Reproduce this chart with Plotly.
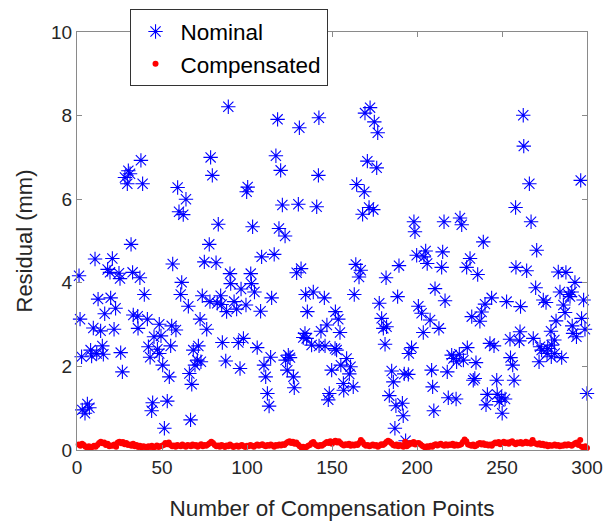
import plotly.graph_objects as go

# Residuals before compensation (x: compensation point index, y: residual in mm)
nominal_x = [
    1.2, 1.8, 2.7, 3.1, 4.7, 6.1, 7.3, 8.0, 8.6, 9.6,
    10.6, 11.6, 12.4, 13.9, 14.9, 15.5, 16.3, 18.0, 19.4, 19.8,
    20.8, 21.8, 22.7, 24.7, 25.3, 25.7, 26.7, 28.2, 29.6, 30.2,
    31.2, 31.8, 32.7, 33.1, 35.7, 35.9, 37.0, 37.6, 38.6, 39.6,
    41.4, 42.0, 43.0, 43.9, 44.5, 45.3, 47.3, 48.4, 48.4, 49.4,
    50.4, 51.4,
    53.1, 54.3, 55.1, 55.7, 56.3, 58.2, 59.2, 60.0, 61.0, 61.6,
    62.5, 64.1, 65.5, 66.1, 66.8, 67.5, 68.4, 69.4, 70.8, 71.4,
    72.4, 72.9, 73.7, 74.9, 76.3, 77.8, 78.2, 78.6, 79.6, 81.8,
    82.5, 83.1, 84.5, 85.1, 85.5, 87.5, 88.0, 89.0, 90.0, 90.4,
    92.4, 93.9, 94.9, 95.9, 96.5, 97.9, 99.4, 99.8, 100.4, 102.2,
    102.6, 103.3, 104.4, 106.0,
    108.0, 108.6, 110.0, 111.0, 112.0, 113.0, 113.9, 114.5, 116.0, 117.0,
    118.0, 118.8, 119.8, 120.8, 122.4, 122.7, 123.7, 124.3, 125.3, 127.3,
    127.8, 129.2, 130.2, 130.8, 131.8, 133.1, 134.1, 134.5, 135.1, 135.5,
    138.0, 139.0, 141.0, 142.0, 142.4, 142.3, 143.5, 145.5, 145.9, 147.0,
    147.8, 148.4, 149.8, 151.8, 152.0, 152.7, 153.7, 154.7, 155.2, 156.7,
    156.9,
    158.6, 160.2, 160.9, 162.5, 163.1, 164.0, 164.5, 165.9, 166.9, 168.0,
    169.0, 169.4, 170.8, 171.8, 172.4, 174.3, 174.9, 176.3, 176.9, 177.8,
    179.2, 180.2, 181.2, 181.8, 182.1, 183.7, 185.1, 186.1, 187.0, 187.6,
    188.6, 189.4, 191.4, 191.9, 192.5, 193.3, 194.9, 195.2, 196.8, 198.2,
    198.8, 199.8, 200.8, 202.7, 203.7, 204.1, 205.1, 206.0, 207.7, 208.6,
    209.2, 209.9, 210.6,
    212.9, 214.5, 215.1, 215.9, 216.5, 217.8, 218.4, 220.4, 221.4, 223.0,
    223.3, 224.9, 225.3, 226.3, 227.3, 229.2, 229.6, 231.2, 232.2, 233.1,
    234.0, 234.7, 235.7, 237.0, 238.0, 239.0, 240.0, 240.6, 241.4, 242.9,
    243.9, 245.3, 246.9, 247.2, 248.4, 249.8, 250.1, 251.8, 252.7, 254.7,
    255.0, 256.3, 257.1,
    258.0, 258.2, 260.2, 260.6, 260.9, 262.5, 262.8, 264.5, 266.1, 267.1,
    268.4, 269.8, 270.4, 271.8, 272.4, 273.3, 274.3, 275.9, 276.5, 276.9,
    278.8, 279.0, 279.2, 280.8, 281.0, 281.8, 283.1, 284.1, 285.1, 286.1,
    287.1, 287.6, 289.0, 290.0, 291.0, 291.3, 291.8, 292.9, 293.8, 296.3,
    296.8, 298.0, 298.8, 300.0,
]
nominal_y = [
    4.17, 3.13, 2.23, 0.96, 0.88, 1.10, 1.01, 2.39, 2.25, 2.92,
    4.57, 2.31, 3.61, 2.85, 2.49, 2.29, 3.26, 4.32, 4.25, 3.64,
    4.58, 2.89, 3.39, 4.23, 4.10, 2.33, 1.87, 6.52, 6.37, 6.68,
    6.61, 4.92, 4.25, 3.23, 3.20, 2.91, 4.12, 6.93, 6.37, 3.72,
    3.13, 2.47, 2.22, 0.94, 1.13, 2.71, 2.41, 3.01, 2.31, 2.73,
    2.03, 0.52,
    1.17, 1.75, 2.49, 2.97, 4.45, 2.87, 6.28, 5.70, 3.72, 4.01,
    5.63, 6.00, 3.44, 1.83, 0.72, 1.57, 2.39, 2.03, 2.15, 2.49,
    3.13, 2.11, 3.69, 4.50, 2.89, 4.92, 3.55, 7.00, 6.57, 4.48,
    3.51, 5.40, 3.69, 3.48, 2.57, 2.13, 3.31, 8.21, 4.22, 3.98,
    3.55, 3.37, 2.57, 1.95, 3.85, 2.67, 3.47, 6.18, 6.29, 4.22,
    3.98, 5.34, 3.78, 2.45,
    3.32, 4.62, 2.03, 1.75, 1.35, 1.05, 2.22, 3.64, 4.68, 7.04,
    7.91, 5.30, 6.69, 5.86, 5.12, 2.15, 1.91, 2.27, 2.21, 1.75,
    1.49, 4.24, 5.88, 7.71, 4.34, 2.69, 2.79, 3.72, 2.67, 3.31,
    2.51, 3.78, 5.82, 6.57, 2.49, 7.95, 2.84, 3.64, 2.49, 2.99,
    1.20, 1.35, 1.91, 2.43, 3.31, 2.39, 3.13, 2.81, 2.03, 1.59,
    1.43,
    2.19, 1.82, 1.99, 1.51, 3.72, 4.44, 6.35, 4.14, 4.30, 5.64,
    6.18, 8.06, 6.91, 5.80, 8.19, 5.75, 7.85, 6.75, 7.59, 3.51,
    3.15, 2.91, 2.53, 4.12, 2.95, 1.30, 1.89, 1.63, 0.52, 1.06,
    3.67, 4.41, 1.12, 0.82, 1.82, 0.22, 1.81, 2.31, 2.45, 5.46,
    5.22, 4.66, 3.44, 3.27, 2.81, 4.62, 4.76, 4.46, 3.11, 1.91,
    1.51, 0.94, 3.86,
    2.91, 4.37, 4.74, 5.46, 3.57, 1.87, 1.25, 2.27, 2.19, 1.22,
    2.11, 2.29, 5.55, 5.39, 2.15, 4.37, 2.45, 4.58, 3.19, 1.67,
    1.71, 2.09, 4.20, 3.08, 3.30, 4.98, 3.49, 1.08, 1.33, 2.55,
    3.64, 2.49, 1.67, 1.33, 1.16, 1.25, 0.88, 1.22, 3.55, 2.65,
    2.21, 2.03, 1.67,
    5.80, 4.37, 2.61, 2.83, 3.43, 8.01, 7.27, 4.29, 6.37, 5.46,
    2.67, 3.88, 4.78, 2.11, 2.47, 2.39, 3.59, 3.53, 2.31, 2.43,
    2.84, 2.23, 2.51, 2.63, 2.31, 3.09, 4.26, 3.78, 2.21, 3.47,
    3.29, 4.25, 3.72, 3.67, 3.78, 2.97, 2.79, 4.01, 2.71, 6.45,
    3.15, 3.59, 2.89, 1.35,
]

# Residuals after compensation, one per compensation point (1..300)
compensated_x = list(range(1, 301))
compensated_y = [
    0.13, 0.10, 0.15, 0.12, 0.08, 0.06, 0.09, 0.05, 0.07, 0.10,
    0.08, 0.12, 0.17, 0.20, 0.16, 0.18, 0.12, 0.15, 0.09, 0.11,
    0.10, 0.13, 0.08, 0.18, 0.20, 0.16, 0.19, 0.14, 0.17, 0.12,
    0.13, 0.10, 0.15, 0.09, 0.12, 0.07, 0.10, 0.06, 0.09, 0.08,
    0.05, 0.09, 0.07, 0.10, 0.06, 0.08, 0.11, 0.07, 0.09, 0.10,
    0.12, 0.17, 0.14, 0.18, 0.12, 0.09, 0.11, 0.08, 0.12, 0.10,
    0.09, 0.13, 0.10, 0.08, 0.12, 0.11, 0.09, 0.13, 0.10, 0.12,
    0.08, 0.11, 0.14, 0.09, 0.12, 0.10, 0.13, 0.16, 0.20, 0.17,
    0.12, 0.09, 0.11, 0.08, 0.12, 0.10, 0.07, 0.11, 0.09, 0.13,
    0.10, 0.07, 0.09, 0.11, 0.08, 0.10, 0.12, 0.09, 0.07, 0.10,
    0.09, 0.12, 0.10, 0.08, 0.11, 0.13, 0.10, 0.12, 0.14, 0.11,
    0.09, 0.12, 0.10, 0.13, 0.11, 0.08, 0.12, 0.10, 0.13, 0.11,
    0.14, 0.12, 0.16, 0.19, 0.21, 0.17, 0.20, 0.15, 0.18, 0.13,
    0.09, 0.06, 0.08, 0.05, 0.07, 0.10, 0.12, 0.17, 0.19, 0.14,
    0.11, 0.09, 0.12, 0.10, 0.13, 0.16, 0.19, 0.17, 0.21, 0.15,
    0.20, 0.22, 0.18, 0.21, 0.17, 0.13, 0.11, 0.14, 0.12, 0.15,
    0.10, 0.13, 0.11, 0.14, 0.12, 0.17, 0.24, 0.19, 0.13, 0.10,
    0.12, 0.09, 0.11, 0.13, 0.10, 0.12, 0.08, 0.11, 0.14, 0.12,
    0.15, 0.19, 0.22, 0.20, 0.16, 0.12, 0.10, 0.13, 0.09, 0.12,
    0.10, 0.08, 0.20, 0.09, 0.12, 0.17, 0.15, 0.19, 0.13, 0.16,
    0.17, 0.14, 0.10, 0.08, 0.06, 0.09, 0.07, 0.10, 0.08, 0.12,
    0.14, 0.11, 0.13, 0.15, 0.12, 0.10, 0.14, 0.11, 0.13, 0.12,
    0.15, 0.10, 0.13, 0.11, 0.12, 0.14, 0.19, 0.25, 0.21, 0.13,
    0.12, 0.10, 0.13, 0.09, 0.11, 0.15, 0.17, 0.13, 0.16, 0.12,
    0.14, 0.11, 0.13, 0.10, 0.15, 0.18, 0.16, 0.19, 0.14, 0.17,
    0.20, 0.16, 0.18, 0.15, 0.19, 0.21, 0.17, 0.14, 0.18, 0.16,
    0.19, 0.15, 0.17, 0.20, 0.16, 0.18, 0.15, 0.24, 0.17, 0.15,
    0.13, 0.16, 0.12, 0.15, 0.11, 0.13, 0.09, 0.12, 0.10, 0.11,
    0.13, 0.10, 0.12, 0.09, 0.11, 0.10, 0.13, 0.11, 0.14, 0.12,
    0.10, 0.13, 0.16, 0.18, 0.12, 0.24, 0.08, 0.06, 0.09, 0.05,
]

x_ticks = [0, 50, 100, 150, 200, 250, 300]
y_ticks = [0, 2, 4, 6, 8, 10]

FONT = "Arial, Liberation Sans, sans-serif"
TEXT = "#262626"
AXIS = "#8a8a8a"

fig = go.Figure()
fig.add_trace(go.Scatter(
    x=nominal_x, y=nominal_y, mode="markers", name="Nominal",
    cliponaxis=False,
    marker=dict(symbol="asterisk-open", size=12, color="#0000ff",
                line=dict(color="#0000ff", width=1.1)),
))
fig.add_trace(go.Scatter(
    x=compensated_x, y=compensated_y, mode="markers", name="Compensated",
    cliponaxis=False,
    marker=dict(symbol="circle", size=6, color="#ff0000", line=dict(width=0)),
))

axis_common = dict(
    showgrid=False, zeroline=False, showline=True, linecolor=AXIS,
    linewidth=1, mirror="ticks", ticks="inside", ticklen=5,
    tickcolor=AXIS, tickwidth=1, automargin=False,
    tickfont=dict(family=FONT, size=19, color=TEXT),
)

fig.update_xaxes(
    range=[0, 300], tickvals=x_ticks, ticktext=[str(v) for v in x_ticks],
    title=dict(text="Number of Compensation Points",
               font=dict(family=FONT, size=22.5, color=TEXT), standoff=23),
    **axis_common,
)
fig.update_yaxes(
    range=[0, 10], tickvals=y_ticks, ticktext=[str(v) for v in y_ticks],
    title=dict(text="Residual (mm)",
               font=dict(family=FONT, size=22, color=TEXT), standoff=12),
    **axis_common,
)

fig.update_layout(
    width=607, height=525,
    margin=dict(l=77, r=20, t=32, b=75, autoexpand=False),
    plot_bgcolor="white", paper_bgcolor="white",
    font=dict(family=FONT, color=TEXT),
    legend=dict(
        x=0.103, y=1.054, xanchor="left", yanchor="top",
        bgcolor="white", bordercolor="#333333", borderwidth=1,
        font=dict(family=FONT, size=22.5, color="#000000"),
        itemwidth=40, tracegroupgap=0,
    ),
    showlegend=True,
)

fig.write_html("out.html")
